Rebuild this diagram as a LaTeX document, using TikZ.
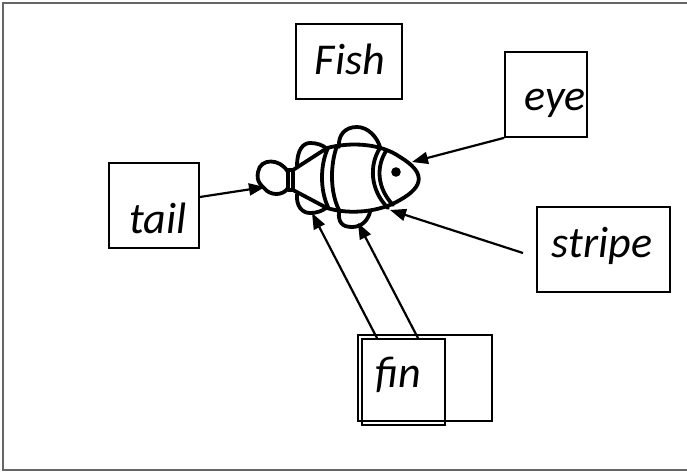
\documentclass[tikz,border=0pt]{standalone}
\usepackage{fontspec}
\setmainfont{Carlito}
\usetikzlibrary{arrows.meta}

\begin{document}
\begin{tikzpicture}[x=1pt,y=-1pt,box/.style={draw=black,line width=1.7pt,inner sep=0pt},word/.style={font=\fontsize{44}{52}\selectfont\itshape,inner sep=0pt,anchor=base},part/.style={line width=3.8pt,line join=round,line cap=round},ptr/.style={line width=2.2pt,-{Triangle[length=16pt,width=12pt]}}]
\useasboundingbox (0,0) rectangle (687,473);
\draw[black!60,line width=1.4pt] (688,3) -- (3,3) -- (3,470) -- (688,470);

% the fish
\draw[part] (288,172) .. controls (280,158) and (260,158) .. (258,172) .. controls (256,182) and (262,186) .. (264,188) .. controls (270,196) and (283,196) .. (288,188);
\draw[part] (288,170) rectangle (293,190);
\draw[part] (293,170) -- (327,148) .. controls (350,142) and (380,143) .. (400,157) .. controls (425,172) and (425,186) .. (400,200) .. controls (380,212) and (350,215) .. (327,208) -- (293,190);
\draw[part] (297,166) .. controls (297,150) and (303,143) .. (310,143) .. controls (317,143) and (323,145) .. (327,149);
\draw[part] (297,194) .. controls (296,206) and (302,213) .. (310,213) .. controls (317,213) and (322,211) .. (326,208);
\draw[part] (339,147) .. controls (338,135) and (345,127) .. (357,127) .. controls (368,127) and (377,137) .. (380,147);
\draw[part] (339,212) .. controls (338,222) and (342,227) .. (352,227) .. controls (362,227) and (368,220) .. (370,212);
\draw[part] (328,148) .. controls (320,165) and (320,190) .. (328,207);
\draw[part] (337,146) .. controls (330,165) and (330,192) .. (339,210);
\draw[part] (380,148) .. controls (369,165) and (370,190) .. (388,208);
\draw[part] (386,151) .. controls (376,167) and (377,188) .. (393,205);
\fill (396,172) circle (4.8);

% labels
\node[box,minimum width=106,minimum height=75] (fishbox) at (349,61.5) {};
\node[word] (fish) at (350,75) {Fish};
\node[box,minimum width=90,minimum height=85] (tailbox) at (154,205.5) {};
\node[word] (tail) at (158,233) {tail};
\node[box,minimum width=82,minimum height=85] (eyebox) at (546,94.5) {};
\node[word] (eye) at (555,111) {eye};
\node[box,minimum width=133,minimum height=85] (stripebox) at (603.5,249.5) {};
\node[word] (stripe) at (602,257) {stripe};
\node[box,minimum width=134,minimum height=86] (finback) at (425,378) {};
\node[box,minimum width=83,minimum height=86] (finbox) at (403.5,382) {};
\node[word] (fin) at (398,387) {fin};

\coordinate (tailtip) at (265,187);
\coordinate (eyetip) at (412,162);
\coordinate (stripetip) at (390,210);
\coordinate (stripefoot) at (523,253);
\coordinate (finltip) at (312,213);
\coordinate (finrtip) at (358,223);

\draw[ptr] ([yshift=8.5pt]tailbox.east) -- (tailtip);
\draw[ptr] (eyebox.south west) -- (eyetip);
\draw[ptr] (stripefoot) -- (stripetip);
\draw[ptr] ([xshift=-26.5pt]finbox.north) -- (finltip);
\draw[ptr] ([xshift=14.5pt]finbox.north) -- (finrtip);
\end{tikzpicture}
\end{document}
